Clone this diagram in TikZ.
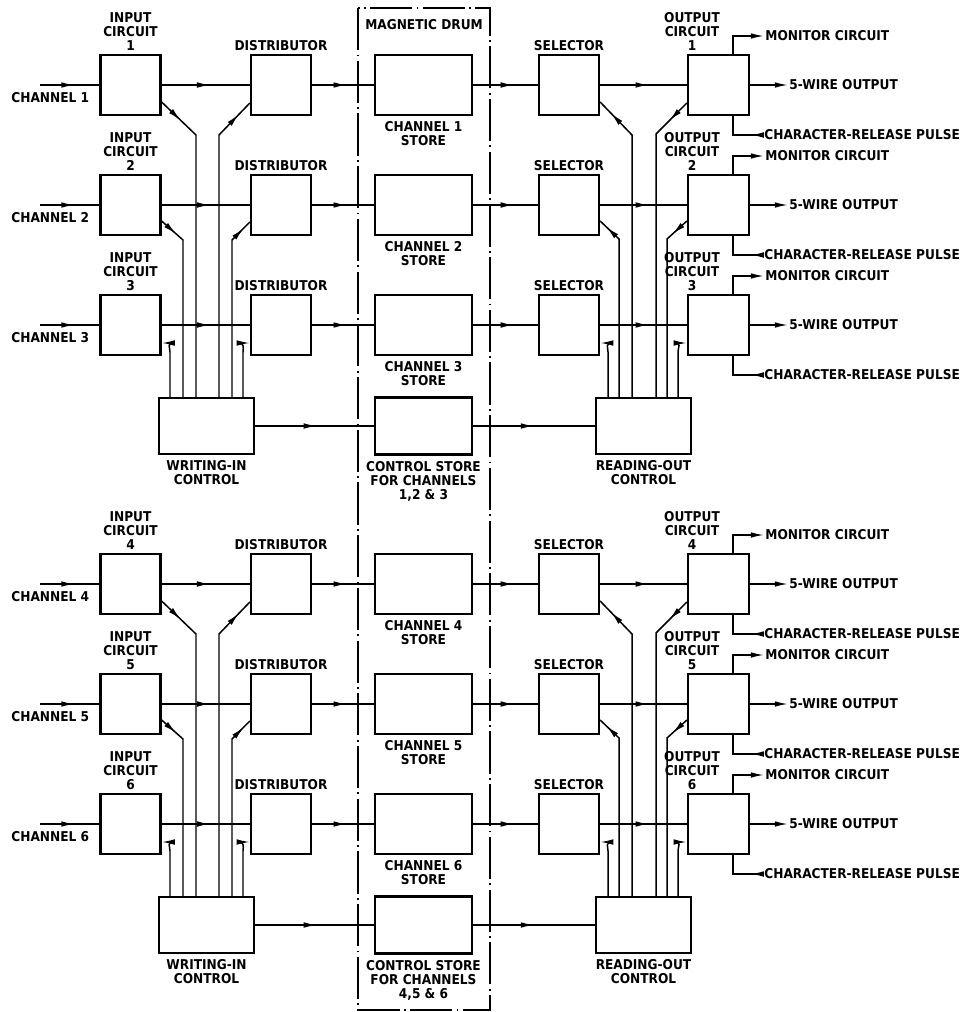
\documentclass[tikz,border=0pt]{standalone}
\usepackage{fontspec}
\setmainfont{DejaVu Sans Condensed}
\usetikzlibrary{positioning,arrows.meta,decorations.markings}
\newcommand{\lettering}{\fontsize{7.7}{8.1}\selectfont\bfseries}

\begin{document}
\begin{tikzpicture}[x=0.02cm,y=-0.02cm,>={Latex[length=7.5pt,width=3.2pt]},
  blk/.style={draw,line width=1.3pt,inner sep=0pt,minimum width=1.2cm,minimum height=1.2cm},
  storebox/.style={blk,minimum width=1.94cm},
  ctl/.style={blk,minimum width=1.9cm,minimum height=1.12cm},
  lbl/.style={font=\lettering,align=center,inner sep=0.6pt},
  wire/.style={line width=0.85pt},
  arr/.style={wire,postaction={decorate},decoration={markings,mark=at position #1 with {\arrow{>}}}},
  drum/.style={line width=0.85pt,dash pattern=on 24pt off 2.5pt on 1pt off 2.5pt}]
  \useasboundingbox (0,0) rectangle (968,1012);

  % magnetic drum
  \draw[drum] (358,8) rectangle (490,1010);
  \node[lbl] (druml) at (424,25) {MAGNETIC DRUM};

  \foreach \k in {0,1}{
    \pgfmathsetmacro{\h}{499*\k}
    \pgfmathtruncatemacro{\na}{3*\k+1}
    \pgfmathtruncatemacro{\nb}{3*\k+2}
    \pgfmathtruncatemacro{\nc}{3*\k+3}
    % channel rows
    \foreach \r in {0,1,2}{
      \pgfmathtruncatemacro{\n}{3*\k+\r+1}
      \pgfmathsetmacro{\y}{\h+85+120*\r}
      \node[blk] (ic\n) at (130.5,\y) {};
      \node[blk] (dist\n) at (281,\y) {};
      \node[storebox] (store\n) at (423.5,\y) {};
      \node[blk] (sel\n) at (569,\y) {};
      \node[blk,minimum width=1.22cm] (oc\n) at (718.5,\y) {};
      \node[lbl,above=1pt of ic\n] (icl\n) {INPUT\\CIRCUIT\\\n};
      \node[lbl,above=1pt of dist\n] (distl\n) {DISTRIBUTOR};
      \node[lbl,below=2pt of store\n] (storel\n) {CHANNEL \n\\STORE};
      \node[lbl,above=1pt of sel\n] (sell\n) {SELECTOR};
      \node[lbl,above=1pt of oc\n,xshift=-0.53cm] (ocl\n) {OUTPUT\\CIRCUIT\\\n};
      \node[lbl,anchor=west] (chl\n) at (10,\y+13) {CHANNEL \n};
      \coordinate (chin\n) at (40,\y);
      \node[lbl,anchor=west] (mon\n) at (764,\y-49) {MONITOR CIRCUIT};
      \node[lbl,anchor=west] (wo\n) at (788,\y) {5-WIRE OUTPUT};
      \node[lbl,anchor=west] (crp\n) at (763,\y+50) {CHARACTER-RELEASE PULSE};
      \draw[arr=0.58] (chin\n) -- (ic\n);
      \draw[arr=0.55] (ic\n) -- (dist\n);
      \draw[arr=0.56] (dist\n) -- (store\n);
      \draw[arr=0.63] (store\n) -- (sel\n);
      \draw[arr=0.56] (sel\n) -- (oc\n);
      \draw[wire,->] ([xshift=0.29cm]oc\n.north) |- (mon\n);
      \draw[wire,->] (oc\n) -- (wo\n);
      \draw[arr=7pt] (crp\n) -| ([xshift=0.29cm]oc\n.south);
    }
    % control blocks
    \node[ctl] (wic\k) at (206.5,\h+426) {};
    \node[storebox,minimum height=1.14cm] (cs\k) at (423.5,\h+426) {};
    \node[ctl] (roc\k) at (643.5,\h+426) {};
    \node[lbl,below=0.08cm of wic\k] (wicl\k) {WRITING-IN\\CONTROL};
    \node[lbl,below=0.08cm of cs\k] (csl\k) {CONTROL STORE\\FOR CHANNELS\\\na,\nb\ \& \nc};
    \node[lbl,below=0.08cm of roc\k] (rocl\k) {READING-OUT\\CONTROL};
    \draw[arr=0.52] (wic\k) -- (cs\k);
    \draw[arr=0.5] (cs\k) -- (roc\k);
    % bends of the control lines
    \coordinate (bi\na) at (196,\h+135);
    \coordinate (bi\nb) at (183,\h+240);
    \coordinate (bi\nc) at (170,\h+352);
    \coordinate (bd\na) at (219,\h+135);
    \coordinate (bd\nb) at (232,\h+240);
    \coordinate (bd\nc) at (243,\h+352);
    \coordinate (bs\na) at (632,\h+135);
    \coordinate (bs\nb) at (619,\h+239);
    \coordinate (bs\nc) at (608,\h+352);
    \coordinate (bo\na) at (656,\h+134);
    \coordinate (bo\nb) at (667,\h+239);
    \coordinate (bo\nc) at (678,\h+352);
    % writing-in control
    \draw[arr=15pt] ([yshift=-0.34cm]ic\na.east) -- (bi\na) -- (bi\na |- wic\k.north);
    \draw[arr=11pt] ([yshift=-0.32cm]ic\nb.east) -- (bi\nb) -- (bi\nb |- wic\k.north);
    \draw[wire,<-] ([yshift=-0.36cm]ic\nc.east) to[out=0,in=90] (bi\nc) -- (bi\nc |- wic\k.north);
    \draw[arr=-9pt] (bd\na |- wic\k.north) -- (bd\na) -- ([yshift=-0.36cm]dist\na.west);
    \draw[arr=-5pt] (bd\nb |- wic\k.north) -- (bd\nb) -- ([yshift=-0.34cm]dist\nb.west);
    \draw[wire,->] (bd\nc |- wic\k.north) -- (bd\nc) to[out=90,in=180] ([yshift=-0.36cm]dist\nc.west);
    % reading-out control
    \draw[arr=-9pt] (bs\na |- roc\k.north) -- (bs\na) -- ([yshift=-0.34cm]sel\na.east);
    \draw[arr=-5pt] (bs\nb |- roc\k.north) -- (bs\nb) -- ([yshift=-0.32cm]sel\nb.east);
    \draw[wire,->] (bs\nc |- roc\k.north) -- (bs\nc) to[out=90,in=0] ([yshift=-0.36cm]sel\nc.east);
    \draw[arr=14pt] ([yshift=-0.36cm]oc\na.west) -- (bo\na) -- (bo\na |- roc\k.north);
    \draw[arr=11pt] ([yshift=-0.32cm]oc\nb.west) -- (bo\nb) -- (bo\nb |- roc\k.north);
    \draw[wire,<-] ([yshift=-0.36cm]oc\nc.west) to[out=180,in=90] (bo\nc) -- (bo\nc |- roc\k.north);
  }
\end{tikzpicture}
\end{document}
